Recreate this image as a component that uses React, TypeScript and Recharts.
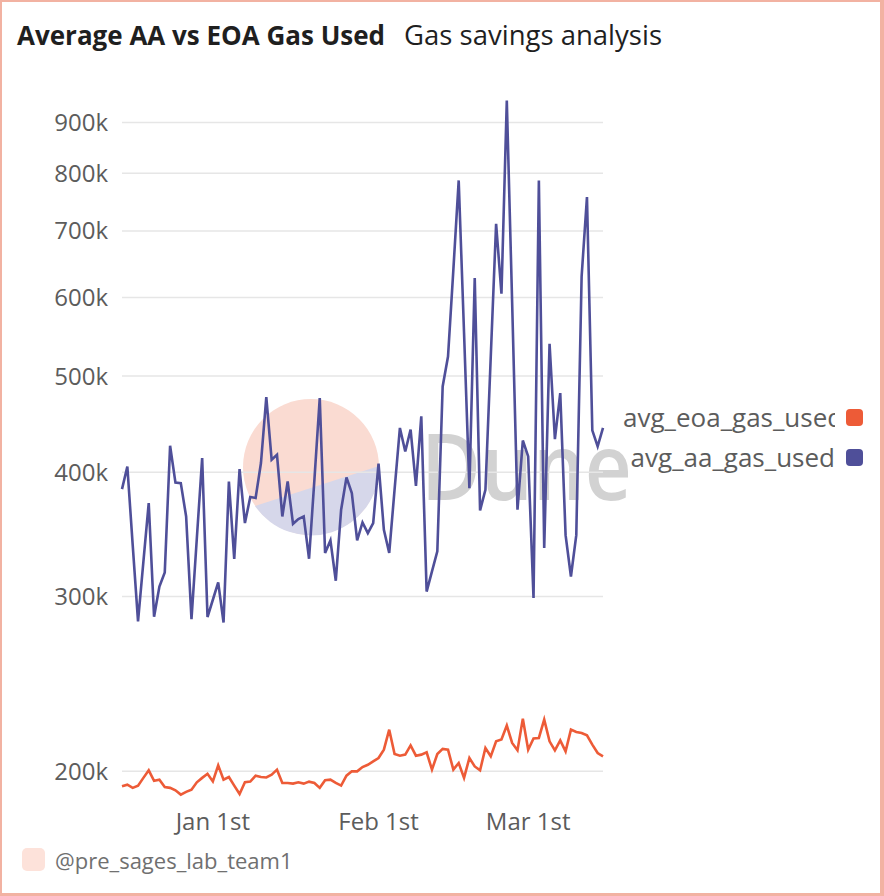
import React from 'react';
import { LineChart, Line, XAxis, YAxis, CartesianGrid } from 'recharts';

const START_DATE = '2024-12-15';

const AA_GAS = [
  384700, 405400, 338100, 283100, 325100, 372500, 286200, 307000, 317200, 425400,
  390600, 390100, 361100, 284600, 343100, 413400, 286000, 297700, 309900, 282400,
  391600, 327200, 403000, 355600, 377700, 376900, 408700, 476200, 411800, 416600,
  361100, 391600, 355000, 358900, 361100, 327400, 393100, 475100, 331800, 341600,
  311100, 366800, 395300, 381300, 341600, 356100, 347400, 355600, 408100, 350100,
  331800, 384200, 443300, 419800, 441600, 387700, 455400, 303400, 317900, 333000,
  488100, 523200, 639600, 786800, 552700, 385600, 627500, 366200, 384200, 523200,
  711600, 605100, 946900, 592600, 366800, 430600, 415000, 298900, 786800, 335600,
  538900, 432000, 480600, 345800, 314200, 345800, 629800, 757100, 440900, 424700,
  443300,
];

const EOA_GAS = [
  193200, 193900, 192500, 193500, 197000, 200500, 195700, 196200, 192900, 192500,
  191400, 189500, 190700, 191700, 195000, 197000, 198900, 195400, 202800, 196200,
  197400, 193500, 189800, 195000, 195300, 198000, 197400, 197200, 198500, 200800,
  194700, 194700, 194400, 195000, 194400, 195300, 194700, 192500, 195900, 196200,
  194700, 193500, 198000, 200000, 200000, 202000, 203100, 204700, 206300, 210300,
  220300, 208200, 207400, 207900, 212400, 207400, 207900, 209000, 200800, 208200,
  210700, 210300, 200800, 203900, 197000, 206300, 202300, 200500, 211100, 207100,
  214400, 215300, 222400, 213600, 210000, 226000, 210300, 215800, 216100, 225500,
  214400, 210000, 214900, 209500, 220300, 219100, 218600, 217400, 212800, 208700,
  207100,
];

const Y_TICKS = [200000, 300000, 400000, 500000, 600000, 700000, 800000, 900000];
const X_TICK_DATES = ['2025-01-01', '2025-02-01', '2025-03-01'];
const X_TICK_LABELS = ['Jan 1st', 'Feb 1st', 'Mar 1st'];

const EOA_KEY = 'avg_eoa_gas_used';
const AA_KEY = 'avg_aa_gas_used';
const EOA_COLOR = '#ED5B37';
const AA_COLOR = '#4F4F99';

const TITLE = 'Average AA vs EOA Gas Used';
const SUBTITLE = 'Gas savings analysis';
const FOOTER = '@pre_sages_lab_team1';

const DAY = 86400000;
const startTs = Date.parse(START_DATE + 'T00:00:00Z');
const data = AA_GAS.map((aa, i) => ({
  ts: startTs + i * DAY,
  [AA_KEY]: aa,
  [EOA_KEY]: EOA_GAS[i],
}));
const xTicks = X_TICK_DATES.map((d) => Date.parse(d + 'T00:00:00Z'));
const xLabel = (v: number) => {
  const idx = xTicks.indexOf(v);
  return idx >= 0 ? X_TICK_LABELS[idx] : '';
};

const FONT = '"Open Sans", "Noto Sans", sans-serif';
const LABEL_COLOR = '#5c5c5c';

const legendItems = [
  { name: EOA_KEY, color: EOA_COLOR, cy: 417 },
  { name: AA_KEY, color: AA_COLOR, cy: 457 },
];

export default function App() {
  return (
    <div style={{ position: 'absolute', left: 0, top: 0, width: 884, height: 896, background: '#fff', fontFamily: FONT, overflow: 'hidden' }}>
      {/* Watermark */}
      <svg width={884} height={896} style={{ position: 'absolute', left: 0, top: 0 }}>
        <circle cx={311} cy={467} r={68} fill="#FADBD2" />
        <path d="M 255 506 L 379 466 A 68 68 0 0 1 255 506 Z" fill="#D6D7EA" />
        <text x={421} y={500} fontSize={92} fontWeight={600} fill="#D2D2D2" fontFamily={FONT} textLength={211} lengthAdjust="spacingAndGlyphs">Dune</text>
      </svg>

      {/* Title */}
      <div style={{ position: 'absolute', left: 17, top: 17, whiteSpace: 'nowrap', color: '#1f1f1f', lineHeight: '36px' }}>
        <span style={{ fontWeight: 700, fontSize: 26 }}>{TITLE}</span>
        <span style={{ marginLeft: 19, fontSize: 27.5 }}>{SUBTITLE}</span>
      </div>

      <div style={{ position: 'absolute', left: 0, top: 0 }}>
        <LineChart width={884} height={896} data={data} margin={{ top: 77, right: 281, bottom: 61, left: 0 }}>
          <CartesianGrid vertical={false} horizontalValues={Y_TICKS} stroke="#E6E6E6" strokeWidth={1.5} />
          <XAxis
            dataKey="ts"
            type="number"
            scale="time"
            domain={['dataMin', 'dataMax']}
            ticks={xTicks}
            tickFormatter={xLabel}
            axisLine={false}
            tickLine={false}
            height={30}
            tickMargin={2}
            tick={{ fontSize: 24, fill: LABEL_COLOR, fontFamily: FONT }}
            interval={0}
          />
          <YAxis
            scale="log"
            domain={[185000, 1000000]}
            allowDataOverflow
            ticks={Y_TICKS}
            tickFormatter={(v: number) => `${Math.round(v / 1000)}k`}
            axisLine={false}
            tickLine={false}
            width={122}
            tickMargin={8}
            tick={{ fontSize: 24, fill: LABEL_COLOR, fontFamily: FONT }}
            interval={0}
          />
          <Line type="linear" dataKey={EOA_KEY} stroke={EOA_COLOR} strokeWidth={2.6} dot={false} isAnimationActive={false} />
          <Line type="linear" dataKey={AA_KEY} stroke={AA_COLOR} strokeWidth={2.6} dot={false} isAnimationActive={false} />
        </LineChart>
      </div>

      {/* Legend */}
      {legendItems.map((it) => (
        <React.Fragment key={it.name}>
          <div style={{ position: 'absolute', left: 623, top: it.cy - 18, width: 212, height: 36, overflow: 'hidden', whiteSpace: 'nowrap', textAlign: 'right', fontSize: 26, lineHeight: '36px', color: LABEL_COLOR }}>
            {it.name}
          </div>
          <div style={{ position: 'absolute', left: 846, top: it.cy - 8.5, width: 17, height: 17, borderRadius: 4, background: it.color }} />
        </React.Fragment>
      ))}

      {/* Footer */}
      <div style={{ position: 'absolute', left: 22, top: 848, width: 23, height: 23, borderRadius: 5, background: '#FDE2DA' }} />
      <div style={{ position: 'absolute', left: 55, top: 845, fontSize: 22, lineHeight: '30px', color: '#707070', whiteSpace: 'nowrap' }}>{FOOTER}</div>

      {/* Border */}
      <div style={{ position: 'absolute', left: 0, top: 0, width: 884, height: 896, boxSizing: 'border-box', borderStyle: 'solid', borderColor: '#F2B2A2', borderWidth: '2px 4px 3px 2px', pointerEvents: 'none' }} />
    </div>
  );
}
